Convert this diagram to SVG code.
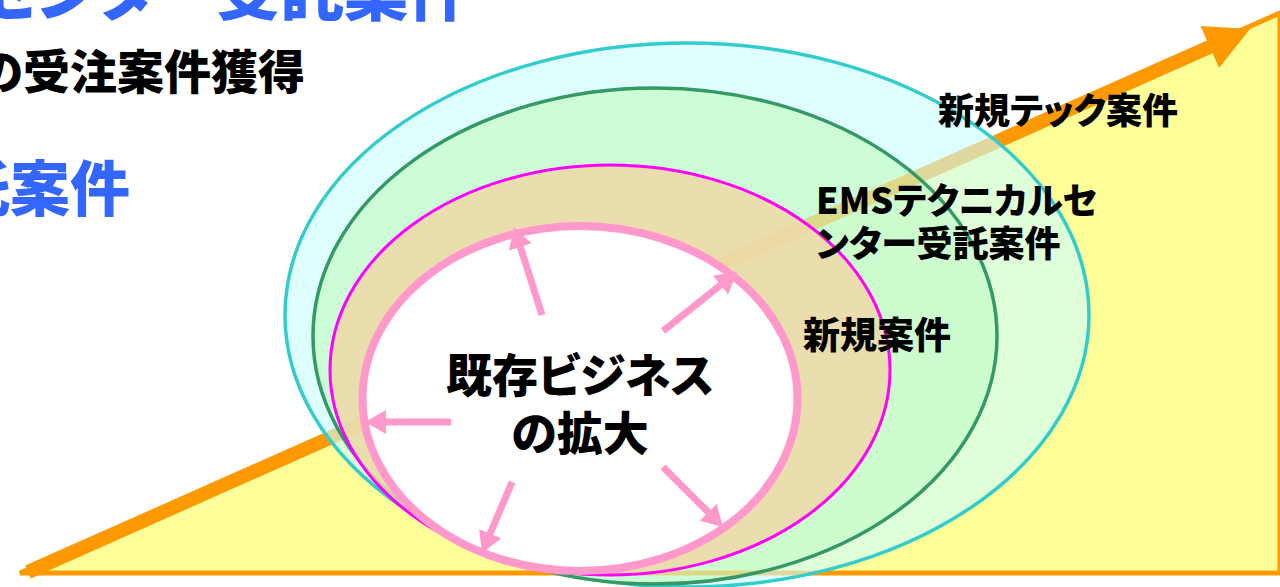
<svg xmlns="http://www.w3.org/2000/svg" width="1280" height="587" viewBox="0 0 1280 587">
<style>
.t{font-family:"Noto Sans CJK JP","Noto Sans",sans-serif;font-weight:900;font-feature-settings:"palt";}
.blk{fill:#000000;}
.blue{fill:#3366FF;}
.pa{stroke:#FF99CC;stroke-width:7;fill:none;marker-end:url(#ph);}
</style>
<defs>
<marker id="ph" viewBox="0 0 21 24" refX="13" refY="12" markerWidth="21" markerHeight="24" markerUnits="userSpaceOnUse" orient="auto">
<path d="M0,0 L21,12 L0,24 z" fill="#FF99CC"/>
</marker>
<clipPath id="greenClip"><ellipse cx="655" cy="336" rx="342" ry="248"/></clipPath>
<polygon id="arrowShape" points="25.2,565.6 1206.9,40.5 1200.5,25.9 1250,29 1219.1,67.9 1212.6,53.3 30.8,578.4"/>
</defs>
<rect width="1280" height="587" fill="#FFFFFF"/>

<g id="top-texts">
<text class="t blue" x="472" y="15" font-size="64" text-anchor="end">センター受託案件</text>
<text class="t blk" x="305" y="89" font-size="47" text-anchor="end">の受注案件獲得</text>
<text class="t blue" x="130" y="211" font-size="60" text-anchor="end">受託案件</text>
</g>

<g id="growth">
<polygon points="20,573 1280,573 1280,13" fill="#FFFF99" stroke="#FF9900" stroke-width="5"/>
<use href="#arrowShape" fill="#FF9900"/>
</g>

<g id="node-tech">
<ellipse cx="687" cy="315" rx="402" ry="272" fill="#CCFFFF" fill-opacity="0.62" stroke="#33CCCC" stroke-width="3.5"/>
</g>

<g id="node-ems">
<ellipse cx="655" cy="336" rx="342" ry="248" fill="#C8FCCC" fill-opacity="0.8"/>
<g clip-path="url(#greenClip)" opacity="0.3">
<use href="#arrowShape" fill="#FF9900"/>
<line x1="20" y1="573" x2="1280" y2="573" stroke="#FF9900" stroke-width="5"/>
</g>
<ellipse cx="655" cy="336" rx="342" ry="248" fill="none" stroke="#339966" stroke-width="3.5"/>
</g>

<g id="node-new">
<ellipse cx="610" cy="370" rx="280" ry="205" fill="#EFD8A8" fill-opacity="0.85" stroke="#FF00FF" stroke-width="3"/>
</g>

<g id="node-core">
<ellipse cx="580" cy="398.5" rx="217.5" ry="172.5" fill="#FFFFFF" stroke="#FF99CC" stroke-width="8"/>
</g>

<g id="connectors">
<line class="pa" x1="542" y1="315" x2="516.4" y2="234.6"/>
<line class="pa" x1="663" y1="331" x2="730.7" y2="277"/>
<line class="pa" x1="451" y1="422" x2="373" y2="422"/>
<line class="pa" x1="512" y1="482" x2="485.1" y2="545.6"/>
<line class="pa" x1="663" y1="467" x2="717.3" y2="521.3"/>
</g>

<g id="labels">
<text id="label-tech" class="t blk" x="938" y="123.5" font-size="36">新規テック案件</text>
<text id="label-ems" class="t blk" font-size="36"><tspan x="816" y="214">EMSテクニカルセ</tspan><tspan x="816" y="257">ンター受託案件</tspan></text>
<text id="label-new" class="t blk" x="803" y="349" font-size="37">新規案件</text>
<text id="label-core" class="t blk" font-size="46" text-anchor="middle"><tspan x="580" y="392">既存ビジネス</tspan><tspan x="580" y="450">の拡大</tspan></text>
</g>
</svg>
